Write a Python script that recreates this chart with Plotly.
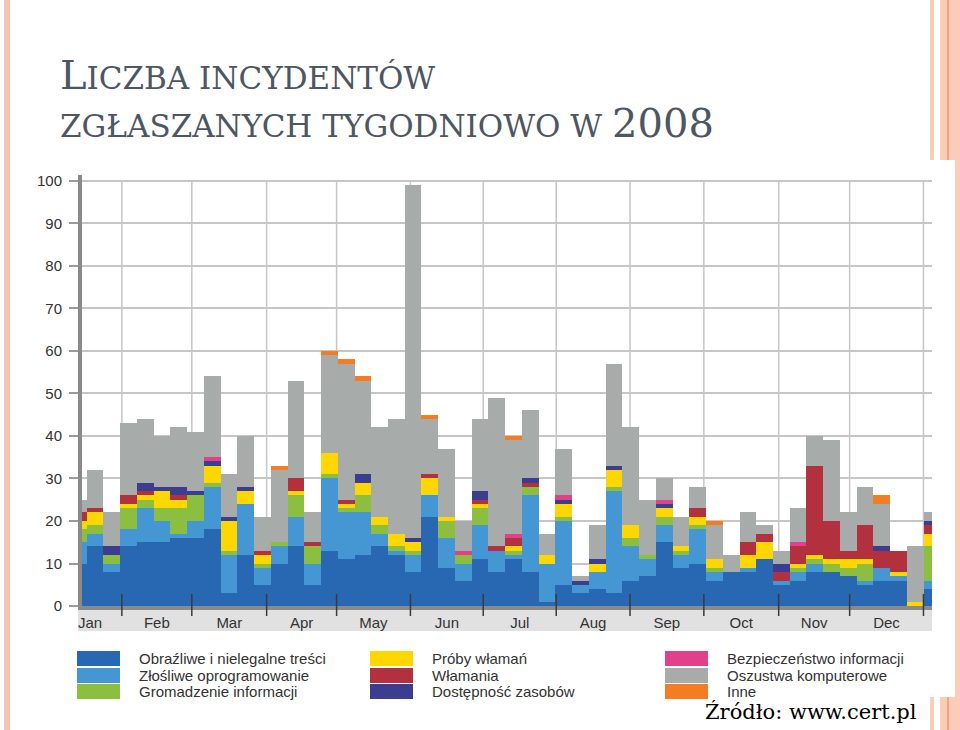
import plotly.graph_objects as go

# weekly incident counts 2008, per category (bottom -> top of each stack)
weeks = list(range(52))

obrazliwe = [10, 14, 8, 14, 15, 15, 16, 16, 18, 3, 12, 5, 10, 14, 5, 13, 11, 12, 14, 12,
             8, 21, 9, 6, 11, 8, 11, 8, 1, 5, 3, 4, 3, 6, 7, 15, 9, 10, 6, 8,
             8, 11, 5, 6, 8, 8, 7, 5, 6, 6, 0, 4]
zlosliwe = [5, 3, 2, 4, 8, 5, 1, 4, 10, 9, 12, 4, 4, 7, 5, 17, 11, 10, 3, 1,
            4, 5, 7, 4, 8, 5, 1, 18, 9, 15, 2, 4, 24, 8, 4, 4, 3, 8, 2, 0,
            1, 0, 1, 2, 2, 0, 0, 1, 3, 1, 0, 2]
gromadzenie = [3, 2, 2, 5, 2, 3, 6, 6, 1, 1, 0, 1, 1, 5, 4, 1, 1, 4, 2, 1,
               1, 0, 4, 2, 4, 0, 1, 2, 0, 1, 0, 0, 1, 2, 1, 2, 1, 1, 1, 0,
               0, 0, 0, 1, 1, 2, 2, 4, 0, 0, 0, 8]
proby = [2, 3, 0, 1, 1, 4, 2, 0, 4, 7, 3, 2, 0, 1, 0, 5, 1, 3, 2, 3,
         2, 4, 1, 0, 1, 0, 1, 0, 2, 3, 0, 2, 4, 3, 0, 2, 1, 2, 2, 0,
         3, 4, 0, 1, 1, 1, 2, 1, 0, 1, 1, 3]
wlamania = [2, 1, 0, 2, 1, 0, 1, 0, 0, 0, 0, 1, 0, 3, 1, 0, 1, 0, 0, 0,
            0, 1, 0, 0, 1, 1, 2, 1, 0, 0, 0, 0, 0, 0, 0, 0, 0, 2, 0, 0,
            3, 2, 2, 4, 21, 9, 2, 8, 4, 5, 0, 2]
dostepnosc = [0, 0, 2, 0, 2, 1, 2, 1, 1, 1, 1, 0, 0, 0, 0, 0, 0, 2, 0, 0,
              1, 0, 0, 0, 2, 0, 0, 1, 0, 1, 1, 1, 1, 0, 0, 1, 0, 0, 0, 0,
              0, 0, 2, 0, 0, 0, 0, 0, 1, 0, 0, 1]
bezpieczenstwo = [0, 0, 0, 0, 0, 0, 0, 0, 1, 0, 0, 0, 0, 0, 0, 0, 0, 0, 0, 0,
                  0, 0, 0, 1, 0, 0, 1, 0, 0, 1, 0, 0, 0, 0, 0, 1, 0, 0, 0, 0,
                  0, 0, 0, 1, 0, 0, 0, 0, 0, 0, 0, 0]
oszustwa = [3, 9, 8, 17, 15, 12, 14, 14, 19, 10, 12, 8, 17, 23, 7, 23, 32, 22, 21, 27,
            83, 13, 16, 7, 17, 35, 22, 16, 5, 11, 1, 8, 24, 23, 13, 5, 7, 5, 8, 4,
            7, 2, 3, 8, 7, 19, 9, 9, 10, 0, 13, 2]
inne = [0, 0, 0, 0, 0, 0, 0, 0, 0, 0, 0, 0, 1, 0, 0, 1, 1, 1, 0, 0,
        0, 1, 0, 0, 0, 0, 1, 0, 0, 0, 0, 0, 0, 0, 0, 0, 0, 0, 1, 0,
        0, 0, 0, 0, 0, 0, 0, 0, 2, 0, 0, 0]

series = [
    ("Obraźliwe i nielegalne treści", obrazliwe, "#2867b2"),
    ("Złośliwe oprogramowanie", zlosliwe, "#4597d3"),
    ("Gromadzenie informacji", gromadzenie, "#8cbf3f"),
    ("Próby włamań", proby, "#ffd700"),
    ("Włamania", wlamania, "#b3303f"),
    ("Dostępność zasobów", dostepnosc, "#3b3e90"),
    ("Bezpieczeństwo informacji", bezpieczenstwo, "#e0418a"),
    ("Oszustwa komputerowe", oszustwa, "#a7abaa"),
    ("Inne", inne, "#f47c22"),
]

# month boundaries and label positions, in week units
month_edges = [2.6, 6.78, 11.25, 15.43, 19.84, 24.19, 28.55, 32.96, 37.37, 41.84, 46.08, 50.49]
month_pos = [0.7, 4.69, 9.02, 13.34, 17.63, 22.02, 26.37, 30.75, 35.16, 39.6, 43.96, 48.28]
month_names = ["Jan", "Feb", "Mar", "Apr", "May", "Jun", "Jul", "Aug", "Sep", "Oct", "Nov", "Dec"]

# plot area in pixels
L, R, T, B = 82, 932, 175, 606


def px(x):
    return (x - L) / (R - L)


def py(y):
    return (B - y) / (B - T)


fig = go.Figure()
for name, vals, color in series:
    fig.add_trace(go.Bar(x=weeks, y=vals, name=name, width=1,
                         marker=dict(color=color, line=dict(width=0))))

shapes = []
# slide decoration stripes
shapes.append(dict(type="rect", xref="paper", yref="paper", x0=px(4), x1=px(10), y0=py(0), y1=py(730),
                   fillcolor="#f7c6b2", line_width=0, layer="below"))
shapes.append(dict(type="rect", xref="paper", yref="paper", x0=px(930), x1=px(934), y0=py(0), y1=py(730),
                   fillcolor="#fbcdb9", line_width=0, layer="below"))
shapes.append(dict(type="rect", xref="paper", yref="paper", x0=px(940), x1=px(960), y0=py(0), y1=py(730),
                   fillcolor="#fbcdb9", line_width=0, layer="below"))
shapes.append(dict(type="rect", xref="paper", yref="paper", x0=px(947), x1=px(949), y0=py(0), y1=py(730),
                   fillcolor="#f0a47f", line_width=0, layer="below"))
# white chart panel over the stripes
shapes.append(dict(type="rect", xref="paper", yref="paper", x0=px(30), x1=px(955), y0=py(160), y1=py(697),
                   fillcolor="white", line_width=0, layer="below"))
# month label band
shapes.append(dict(type="rect", xref="paper", yref="paper", x0=px(78), x1=px(932), y0=py(631), y1=0,
                   fillcolor="#e1e1e1", line_width=0, layer="below"))
for e in month_edges:
    shapes.append(dict(type="line", xref="x", yref="y", x0=e, x1=e, y0=0, y1=100,
                       line=dict(color="#c6c6c6", width=1.5), layer="below"))
    shapes.append(dict(type="line", xref="x", yref="paper", x0=e, x1=e, y0=py(616), y1=py(594),
                       line=dict(color="#3a3a3a", width=1.5), layer="above"))

# legend built from the series list
annotations = []
col_x = [77, 370, 665]
row_y = [651, 668, 684]
for i, (name, vals, color) in enumerate(series):
    c, r = divmod(i, 3)
    shapes.append(dict(type="rect", xref="paper", yref="paper",
                       x0=px(col_x[c]), x1=px(col_x[c] + 43), y0=py(row_y[r] + 15), y1=py(row_y[r]),
                       fillcolor=color, line_width=0))
    annotations.append(dict(xref="paper", yref="paper", x=px(col_x[c] + 60), y=py(row_y[r] + 7.5),
                            text=name, showarrow=False, xanchor="left", yanchor="middle",
                            font=dict(family="Liberation Sans, Arial", size=15, color="#333333")))

title_font = dict(family="DejaVu Serif", size=40, color="#4d5663")
annotations.append(dict(xref="paper", yref="paper", x=px(58), y=py(75),
                        text="L<span style='font-size:31px'>ICZBA INCYDENTÓW</span>",
                        showarrow=False, xanchor="left", yanchor="middle", font=title_font))
annotations.append(dict(xref="paper", yref="paper", x=px(58), y=py(123),
                        text="<span style='font-size:31px'>ZGŁASZANYCH TYGODNIOWO W </span>2008",
                        showarrow=False, xanchor="left", yanchor="middle", font=title_font))
annotations.append(dict(xref="paper", yref="paper", x=px(919), y=py(712),
                        text="Źródło: www.cert.pl", showarrow=False, xanchor="right", yanchor="middle",
                        font=dict(family="DejaVu Serif", size=21, color="#000000")))

fig.update_layout(
    width=960, height=730,
    margin=dict(l=L, r=960 - R, t=T, b=730 - B),
    barmode="stack", bargap=0,
    showlegend=False,
    paper_bgcolor="white", plot_bgcolor="rgba(0,0,0,0)",
    shapes=shapes, annotations=annotations,
    font=dict(family="Liberation Sans, Arial", size=15, color="#333333"),
)
fig.update_xaxes(range=[0.22, 51.0], tickmode="array", tickvals=month_pos, ticktext=month_names,
                 showgrid=False, zeroline=False, ticks="", showline=True, linewidth=4,
                 linecolor="#8a8a8a", fixedrange=True)
fig.update_yaxes(range=[0, 101.4], dtick=10, showgrid=True, gridcolor="#c6c6c6", gridwidth=1.5,
                 zeroline=False, ticks="outside", ticklen=9, tickcolor="#9a9a9a", tickwidth=1.5,
                 ticklabelstandoff=4,
                 showline=True, linewidth=4, linecolor="#8a8a8a", fixedrange=True)

# page body has a default 8px margin; drop it so the figure sits at the window origin
fig.write_html("out.html", config={"displayModeBar": False},
               post_script="document.body.style.margin='0';")
